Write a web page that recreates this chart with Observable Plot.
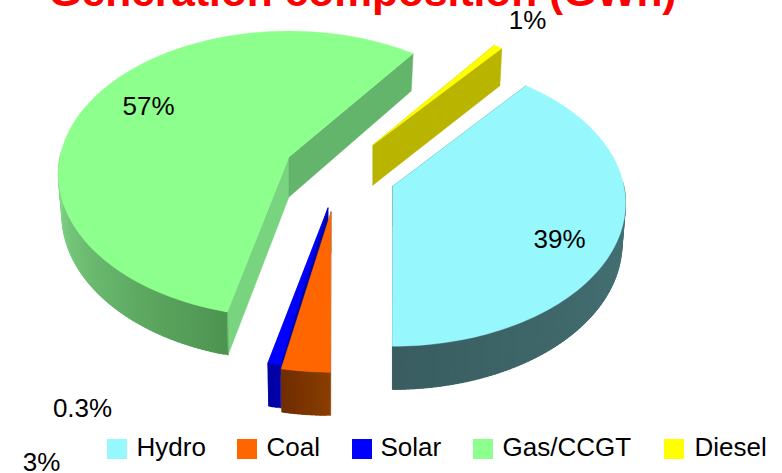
<!DOCTYPE html>
<html>
<head>
<meta charset="utf-8">
<style>html,body{margin:0;padding:0;background:#fff}svg{display:block}</style>
<script src="https://cdn.jsdelivr.net/npm/d3@7"></script>
<script src="https://cdn.jsdelivr.net/npm/@observablehq/plot@0.6"></script>
</head>
<body>
<div id="chart"></div>
<script>
const titleText = "Generation composition (GWh)";
const categories = ["Hydro", "Coal", "Solar", "Gas/CCGT", "Diesel"];
// slice sizes (percent of the circle)
const sliceSizes = [39.2, 3, 0.8, 56.3, 0.7];
const shareLabels = ["39%", "3%", "0.3%", "57%", "1%"];

// styling and layout, separate from the data
const topColors = ["#96f8fd", "#ff6600", "#0000ff", "#8cff8c", "#ffff00"];
const wallNear = ["#4f8285", "#8a3f00", "#0000b0", "#4d9350", "#b8b400"];
const wallFar = ["#395d60", "#702c00", "#0000a0", "#86dc8c", "#b8b400"];
const startFaceColors = ["#4f8285", "#8a3f00", "#0000b0", "#78d47e", "#b8b400"];
const endFaceColors = ["#466f72", "#8a3f00", "#0000b0", "#62b56b", "#b8b400"];
const startAngle = 39;
const apexX = [393, 331, 328, 289, 373];
const apexY = [186, 212, 208, 157, 145];
const radiusScaleX = [0.995, 1, 0.96, 0.987, 0.965];
const radiusScaleY = [1, 1, 1, 1, 0.965];
const RX = 232, RY = 141, PERSP = 0.12, DEPTH = 40;
const labelX = [559, 41, 82, 148, 527];
const labelY = [239, 462, 408, 106, 20];
const legendSwatchX = [107, 237, 352, 473, 664];
const legendTextX = [136, 266, 380, 502, 694];

const total = d3.sum(sliceSizes);
function rim(i, deg, dropped) {
  const t = deg * Math.PI / 180;
  const X = Math.sin(t), Y = -Math.cos(t);
  const s = 1 / (1 - PERSP * Y);
  const shrink = dropped ? 0.985 : 1;
  return {
    x: apexX[i] + RX * radiusScaleX[i] * X * s * shrink,
    y: apexY[i] + RY * radiusScaleY[i] * Y * s + (dropped ? DEPTH * (1 + 0.08 * Y) : 0)
  };
}
const polygons = [];
function addPoly(id, fill, curveA, curveB) {
  curveA.forEach((a, k) => polygons.push({id, fill, x1: a.x, y1: a.y, x2: curveB[k].x, y2: curveB[k].y}));
}
// back-to-front painting order
const paintOrder = [4, 3, 0, 2, 1];
const starts = [];
let running = startAngle;
sliceSizes.forEach((v) => { starts.push(running); running += v / total * 360; });
paintOrder.forEach((i) => {
  const a0 = starts[i], a1 = a0 + sliceSizes[i] / total * 360;
  const apexTop = {x: apexX[i], y: apexY[i]};
  const apexLow = {x: apexX[i], y: apexY[i] + DEPTH};
  addPoly(`s${i}`, startFaceColors[i], [apexTop, rim(i, a0, false)], [apexLow, rim(i, a0, true)]);
  addPoly(`e${i}`, endFaceColors[i], [apexTop, rim(i, a1, false)], [apexLow, rim(i, a1, true)]);
  const n = Math.max(3, Math.ceil(a1 - a0));
  const mix = d3.interpolateRgb(wallNear[i], wallFar[i]);
  const steps = d3.range(n + 1).map((k) => a0 + (a1 - a0) * k / n);
  for (let k = 0; k < n; k++) {
    const mid = (steps[k] + steps[k + 1]) / 2;
    // only the part of the outer wall that faces the viewer is drawn
    if (Math.cos(mid * Math.PI / 180) > 0.02) continue;
    // wall shade follows the sideways position of the slice
    const u = i === 3 ? Math.min(1, Math.max(0, (mid - 193) / 77)) : (mid - a0) / (a1 - a0);
    // each strip runs a little under the next one, so no seams show
    const to = Math.min(a1, steps[k + 1] + 1.5);
    addPoly(`w${i}-${k}`, mix(u), [rim(i, steps[k], false), rim(i, to, false)], [rim(i, steps[k], true), rim(i, to, true)]);
  }
  const fine = d3.range(0, 101).map((k) => rim(i, a0 + (a1 - a0) * k / 100, false));
  addPoly(`t${i}`, topColors[i], fine.map(() => apexTop), fine);
});

const labels = shareLabels.map((text, i) => ({text, x: labelX[i], y: labelY[i]}));
const legend = categories.map((name, i) => ({name, fill: topColors[i], x1: legendSwatchX[i], x2: legendSwatchX[i] + 20, tx: legendTextX[i]}));

const chart = Plot.plot({
  width: 782, height: 473,
  margin: 0,
  style: {background: "#fff", fontFamily: "'Liberation Sans', Arial, sans-serif"},
  x: {domain: [0, 782], range: [0, 782], axis: null},
  y: {domain: [0, 473], range: [0, 473], axis: null},
  color: {type: "identity"},
  marks: [
    Plot.text([titleText], {x: 362, y: 5.5, text: (d) => d, fill: "#ff0000", fontSize: 42.5, fontWeight: "bold", lineAnchor: "bottom", textAnchor: "middle"}),
    Plot.area(polygons, {x1: "x1", y1: "y1", x2: "x2", y2: "y2", z: "id", fill: "fill", stroke: "fill", strokeWidth: 0.4}),
    Plot.text(labels, {x: "x", y: "y", text: "text", fontSize: 26, fill: "#000", textAnchor: "middle"}),
    Plot.rect(legend, {x1: "x1", x2: "x2", y1: () => 439, y2: () => 459, fill: "fill"}),
    Plot.text(legend, {x: "tx", y: () => 447, text: "name", fontSize: 26, fill: "#000", textAnchor: "start"})
  ]
});
document.getElementById("chart").append(chart);
</script>
</body>
</html>
